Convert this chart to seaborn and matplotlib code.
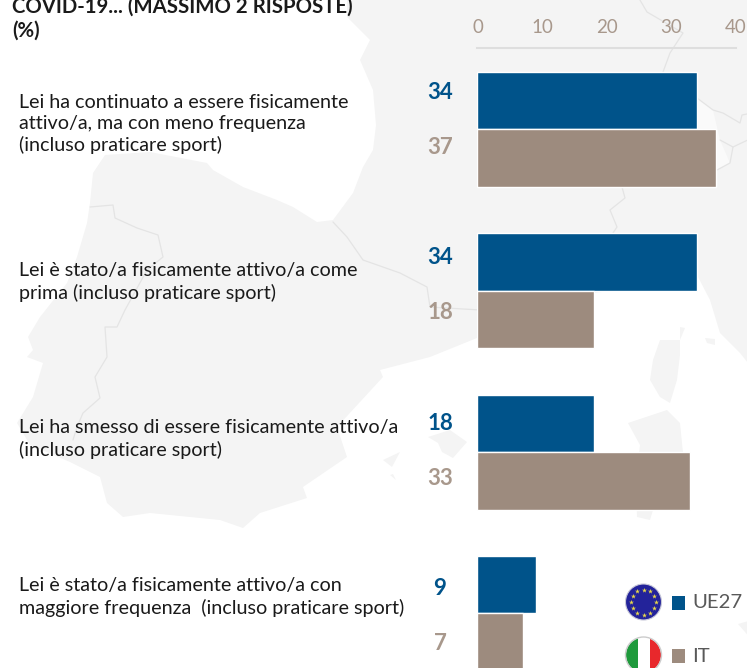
import numpy as np
import pandas as pd
import seaborn as sns
import matplotlib.pyplot as plt
from matplotlib.patches import Circle, Polygon, Rectangle

categories = [
    'Lei ha continuato a essere fisicamente\nattivo/a, ma con meno frequenza\n(incluso praticare sport)',
    'Lei è stato/a fisicamente attivo/a come\nprima (incluso praticare sport)',
    'Lei ha smesso di essere fisicamente attivo/a\n(incluso praticare sport)',
    'Lei è stato/a fisicamente attivo/a con\nmaggiore frequenza  (incluso praticare sport)',
]
ue27 = [34, 34, 18, 9]
it = [37, 18, 33, 7]
ticks = [0, 10, 20, 30, 40]

BLUE = '#00538a'
BROWN = '#9d8b7e'
TICK = '#a8988c'
LAND = '#f4f4f4'
BORDER = '#e4e4e4'

# background map, traced by eye in pixel coordinates
MAINLAND = [(347, -5), (347, 17), (370, 40), (360, 60), (373, 90), (376, 125), (373, 150), (363, 167),
            (353, 193), (333, 220), (317, 222), (293, 207), (277, 200), (243, 187), (213, 170), (207, 163),
            (150, 152), (105, 155), (93, 173), (90, 203), (87, 223), (77, 257), (67, 283), (40, 317),
            (28, 337), (33, 350), (27, 357), (43, 363), (33, 397), (17, 423), (30, 445), (70, 462),
            (100, 477), (107, 503), (123, 517), (150, 513), (220, 520), (243, 528), (260, 513), (307, 498),
            (303, 487), (347, 457), (337, 427), (383, 377), (380, 370), (430, 357), (477, 338), (520, 325),
            (595, 293), (650, 285), (697, 275), (710, 300), (720, 333), (740, 353), (752, 368), (752, -5)]
ISLANDS = [
    [(680, 327), (685, 328), (680, 340), (660, 340), (653, 360), (650, 380), (660, 397), (670, 403),
     (677, 380), (680, 355)],
    [(628, 423), (667, 410), (680, 423), (683, 453), (675, 490), (653, 510), (650, 520), (637, 517),
     (636, 480), (640, 445)],
    [(705, 338), (715, 339), (715, 345), (707, 343)],
    [(428, 437), (450, 430), (467, 442), (453, 458), (442, 452), (438, 443)],
    [(383, 460), (400, 452), (392, 467)],
    [(390, 475), (396, 480), (393, 474)],
    [(738, 624), (752, 620), (752, 640)],
]
PALE = [(697, 98), (713, 110), (720, 140), (730, 163), (717, 170), (700, 160)]
BORDERS = [
    [(90, 207), (113, 205), (115, 218), (137, 228), (158, 235), (163, 257), (147, 270), (125, 310),
     (117, 327), (105, 327), (107, 357), (95, 377), (100, 398), (83, 413), (77, 427), (73, 440)],
    [(333, 222), (347, 237), (363, 260), (400, 273), (427, 287), (430, 307), (480, 310)],
    [(637, -5), (647, 12), (683, 33), (670, 53), (663, 72)],
    [(622, 187), (625, 198), (610, 210), (617, 227), (613, 233)],
    [(697, 98), (713, 110), (723, 113), (740, 123), (742, 115), (752, 113)],
    [(720, 140), (733, 147), (730, 163), (717, 170)],
    [(733, 147), (752, 138)],
]

sns.set_theme(style='white')
plt.rcParams['font.family'] = ['Lato', 'DejaVu Sans']

df = pd.DataFrame({
    'categoria': categories * 2,
    'valore': ue27 + it,
    'paese': ['UE27'] * 4 + ['IT'] * 4,
})

W, H = 747, 668
fig = plt.figure(figsize=(W / 100, H / 100), dpi=100, facecolor='white')

bg = fig.add_axes([0, 0, 1, 1])
bg.set_xlim(0, W)
bg.set_ylim(H, 0)
bg.axis('off')
bg.add_patch(Polygon(MAINLAND, fc=LAND, ec='none', zorder=1))
for isl in ISLANDS:
    bg.add_patch(Polygon(isl, fc=LAND, ec='none', zorder=1))
bg.add_patch(Polygon(PALE, fc='#fafafa', ec='none', zorder=1))
for b in BORDERS:
    xs, ys = zip(*b)
    bg.plot(xs, ys, color=BORDER, lw=0.9, zorder=2)

ax = fig.add_axes([477.5 / W, 0, (735.5 - 477.5) / W, (H - 48.3) / H])
ax.patch.set_alpha(0)
sns.barplot(data=df, y='categoria', x='valore', hue='paese', hue_order=['UE27', 'IT'],
            palette=[BLUE, BROWN], saturation=1, width=0.713, gap=0, legend=False, ax=ax)
ax.set_xlim(0, 40)
ax.set_ylim((H - 129.5) / 161.3, (48.3 - 129.5) / 161.3)
ax.set_xlabel('')
ax.set_ylabel('')
ax.set_xticks(ticks)
ax.tick_params(axis='x', top=False, bottom=False, labeltop=True, labelbottom=False,
               labelsize=13.5, labelcolor=TICK, pad=3)
ax.tick_params(axis='y', left=False, labelleft=False)
sns.despine(ax=ax, top=False, left=True, bottom=True, right=True)
ax.spines['top'].set_color('#dedede')
ax.spines['top'].set_linewidth(1.5)

# title is cut by the top edge in the original
bg.text(12, 6.5, 'COVID-19... (MASSIMO 2 RISPOSTE)', fontsize=14.7, fontweight='bold',
        color='#1a1a1a', ha='left', va='center', zorder=5)
bg.text(12, 31, '(%)', fontsize=14.7, fontweight='bold', color='#1a1a1a', ha='left', va='center', zorder=5)

label_y = [124, 282, 439, 597]
for cat, y in zip(categories, label_y):
    bg.text(19, y, cat, fontsize=14.2, color='#1a1a1a', ha='left', va='center', linespacing=1.28, zorder=5)

for i in range(4):
    bg.text(440, 92.5 + 165.3 * i, str(ue27[i]), fontsize=16, fontweight='bold', color=BLUE,
            ha='center', va='center', zorder=5)
    bg.text(440, 147.5 + 165.3 * i, str(it[i]), fontsize=16, fontweight='bold', color=TICK,
            ha='center', va='center', zorder=5)

# legend with the two round flags
bg.add_patch(Rectangle((672, 596), 13, 13.5, fc=BLUE, ec='none', zorder=5))
bg.add_patch(Rectangle((672, 649), 13, 13.5, fc=BROWN, ec='none', zorder=5))
bg.text(692, 603, 'UE27', fontsize=14.6, color='#595959', ha='left', va='center', zorder=5)
bg.text(692, 656, 'IT', fontsize=14.6, color='#595959', ha='left', va='center', zorder=5)

bg.add_patch(Circle((643.5, 602), 18, fc='#23239a', ec='#c8c8d8', lw=0.8, zorder=5))
ang = np.deg2rad(np.arange(0, 360, 30))
bg.scatter(643.5 + 12.5 * np.cos(ang), 602 + 12.5 * np.sin(ang), marker='*', s=14,
           color='#e8d84a', linewidths=0, zorder=6)

flag = Circle((643.5, 655), 17.5, transform=bg.transData)
for x0, c in zip([625, 637.5, 649.5], ['#1f9a3c', 'white', '#e8282c']):
    r = Rectangle((x0, 636), 12.5, 38, fc=c, ec='none', zorder=5)
    bg.add_patch(r)
    r.set_clip_path(flag)
bg.add_patch(Circle((643.5, 655), 18, fc='none', ec='#cccccc', lw=1, zorder=6))

fig.savefig('out.png', dpi=100)
